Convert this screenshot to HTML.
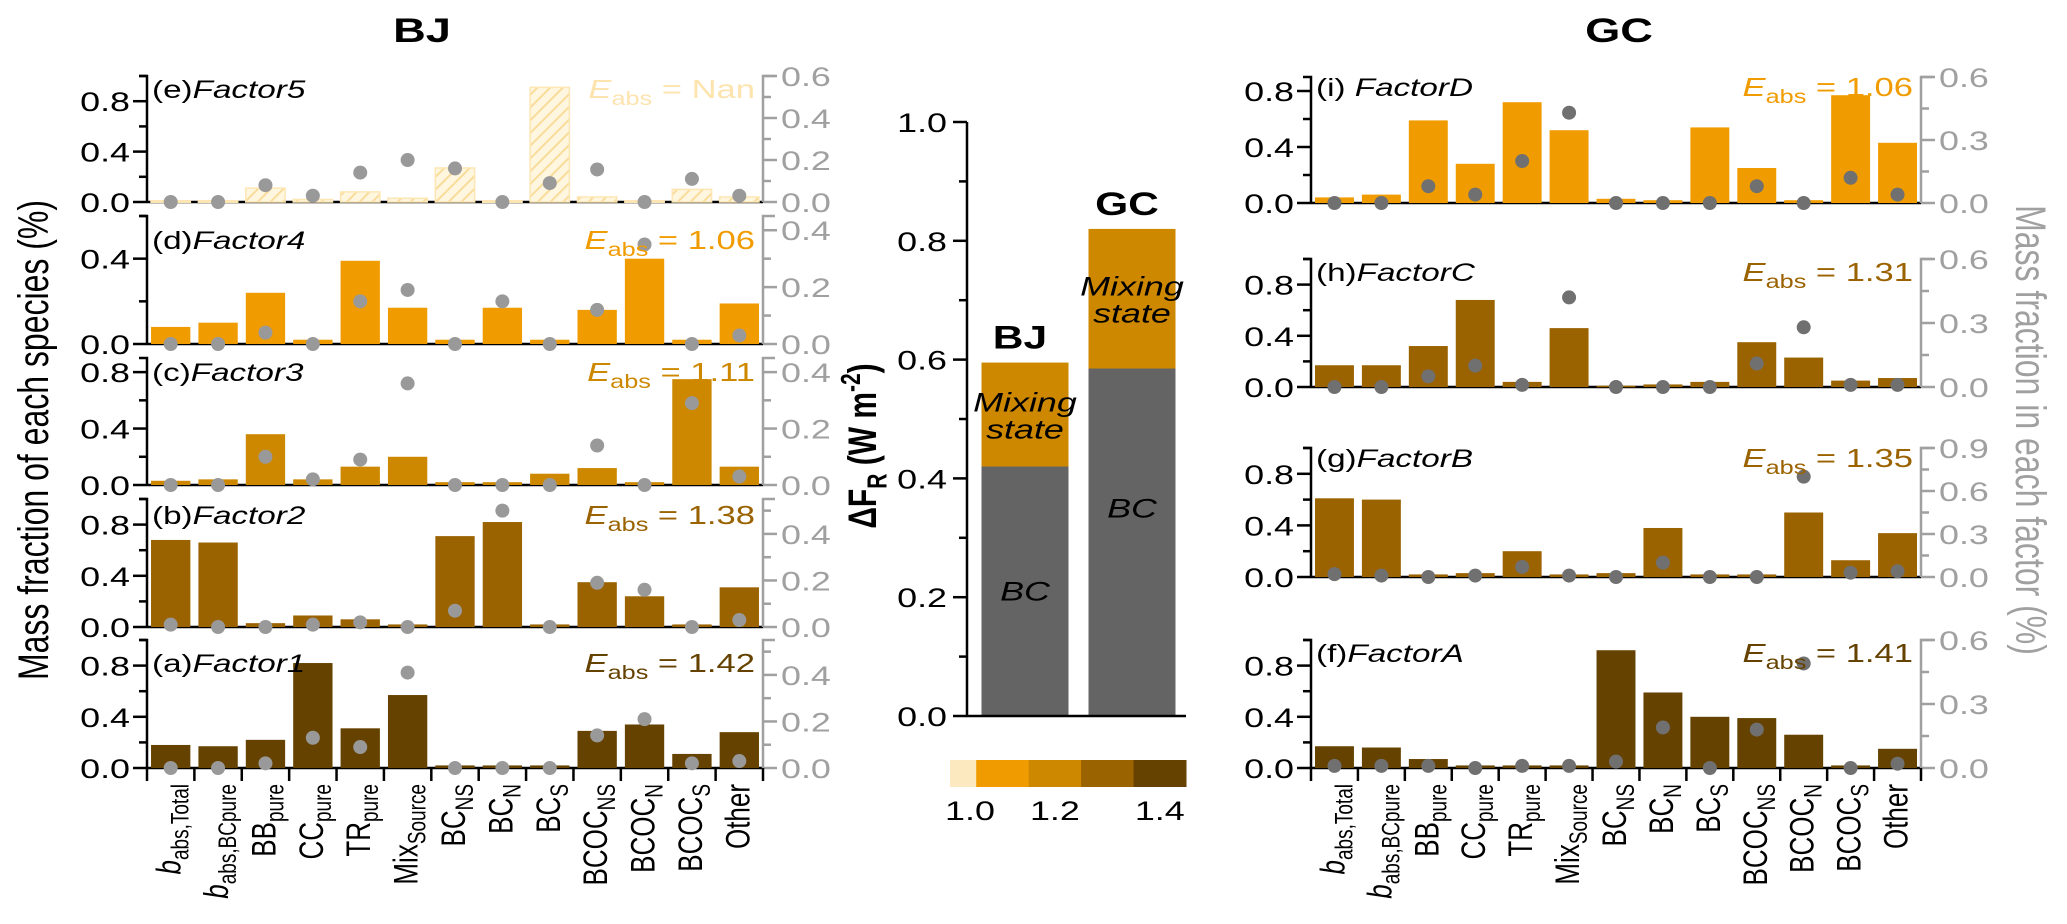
<!DOCTYPE html>
<html><head><meta charset="utf-8">
<style>
html,body{margin:0;padding:0;background:#fff;}
svg{display:block;font-family:"Liberation Sans",Arial,sans-serif;}
</style></head>
<body>
<svg id="fig" width="2067" height="924" viewBox="0 0 2067 924" xmlns="http://www.w3.org/2000/svg">
<defs>
<pattern id="hatch" patternUnits="userSpaceOnUse" width="9" height="9" patternTransform="rotate(45)">
<rect width="9" height="9" fill="#fff6e0"/>
<line x1="0" y1="0" x2="0" y2="9" stroke="#f9dc9a" stroke-width="4"/>
</pattern>
</defs>
</svg>
<script>
// ---- categories ----
const speciesMain = ["b","b","BB","CC","TR","Mix","BC","BC","BC","BCOC","BCOC","BCOC","Other"];
const speciesSub  = ["abs,Total","abs,BCpure","pure","pure","pure","Source","NS","N","S","NS","N","S",""];
// ---- BJ series (bars: left axis, dots: right axis) ----
const bjF5Bars = [0.01,0.01,0.11,0.02,0.08,0.03,0.27,0.01,0.91,0.04,0.01,0.10,0.04];
const bjF5Dots = [0,0,0.08,0.03,0.14,0.20,0.16,0,0.09,0.155,0,0.11,0.03];
const bjF4Bars = [0.08,0.10,0.24,0.02,0.39,0.17,0.02,0.17,0.02,0.16,0.40,0.02,0.19];
const bjF4Dots = [0,0,0.04,0,0.15,0.19,0,0.15,0,0.12,0.35,0,0.03];
const bjF3Bars = [0.03,0.04,0.36,0.04,0.13,0.20,0.02,0.02,0.08,0.12,0.02,0.75,0.13];
const bjF3Dots = [0,0,0.10,0.02,0.09,0.36,0,0,0,0.14,0,0.29,0.03];
const bjF2Bars = [0.68,0.66,0.03,0.09,0.06,0.02,0.71,0.82,0.02,0.35,0.24,0.02,0.31];
const bjF2Dots = [0.01,0,0,0.01,0.02,0,0.07,0.50,0,0.19,0.16,0,0.03];
const bjF1Bars = [0.18,0.17,0.22,0.82,0.31,0.57,0.02,0.02,0.02,0.29,0.34,0.11,0.28];
const bjF1Dots = [0,0,0.02,0.13,0.09,0.41,0,0,0,0.14,0.21,0.02,0.03];
// ---- GC series ----
const gcDBars = [0.04,0.06,0.59,0.28,0.72,0.52,0.03,0.02,0.54,0.25,0.02,0.77,0.43];
const gcDDots = [0,0,0.08,0.04,0.20,0.43,0,0,0,0.08,0,0.12,0.04];
const gcCBars = [0.17,0.17,0.32,0.68,0.04,0.46,0.01,0.02,0.04,0.35,0.23,0.05,0.07];
const gcCDots = [0,0,0.05,0.10,0.01,0.42,0,0,0,0.11,0.28,0.01,0.01];
const gcBBars = [0.61,0.60,0.02,0.03,0.20,0.02,0.03,0.38,0.02,0.02,0.50,0.13,0.34];
const gcBDots = [0.02,0.01,0,0.01,0.07,0.01,0,0.10,0,0,0.70,0.03,0.04];
const gcABars = [0.17,0.16,0.07,0.02,0.02,0.02,0.92,0.59,0.40,0.39,0.26,0.02,0.15];
const gcADots = [0.01,0.01,0.01,0,0.01,0.01,0.03,0.19,0,0.18,0.49,0,0.02];
// ---- E_abs labels ----
const bjEabs = ["Nan","1.06","1.11","1.38","1.42"];
const gcEabs = ["1.06","1.31","1.35","1.41"];
// ---- middle stacked bar ----
const midSites = ["BJ","GC"];
const midBC = [0.42,0.585];
const midMix = [0.175,0.235];
const midTicks = [0,0.2,0.4,0.6,0.8,1.0];
const cbarEdges = [1.0,1.05,1.15,1.25,1.35,1.45];
const cbarTicks = [1.0,1.2,1.4];

const NS="http://www.w3.org/2000/svg";
const svg=document.getElementById('fig');
const SX=1.33;
function el(tag,attrs,parent){const e=document.createElementNS(NS,tag);for(const k in attrs)e.setAttribute(k,attrs[k]);(parent||svg).appendChild(e);return e;}
function txt(x,y,str,size,opts,parent){
  opts=opts||{};
  const t=el('text',{transform:`translate(${x},${y}) scale(${SX},1)`+(opts.rot?' rotate(-90)':''),'font-size':size,'text-anchor':opts.anchor||'start',fill:opts.fill||'#000'},parent);
  if(opts.weight)t.setAttribute('font-weight',opts.weight);
  if(opts.italic)t.setAttribute('font-style','italic');
  t.textContent=str;return t;}
function fmt(v,d){return v.toFixed(d);}

function drawPanel(cfg){
  const g=el('g',{});
  
  
  const x0=cfg.x0,x1=cfg.x1,n=cfg.bars.length,pitch=(x1-x0)/n;
  const yL=v=>cfg.zero-(v/cfg.lmax)*(cfg.zero-cfg.top);
  const yR=v=>cfg.zero-(v/cfg.rmax)*(cfg.zero-cfg.top);
  const base=el('line',{x1:x0,x2:x1,y1:cfg.zero,y2:cfg.zero,stroke:'#000','stroke-width':2.5},g);
  
  
  cfg.bars.forEach((v,i)=>{
    const cx=x0+pitch*(i+0.5),w=pitch*0.83;
    const y=yL(v);
    const r=el('rect',{x:cx-w/2,y:y,width:w,height:Math.max(cfg.zero-y,1.5),fill:cfg.hatch?'url(#hatch)':cfg.color,stroke:cfg.hatch?'#fde6b4':'none','stroke-width':1.5},g);
    
    
  });
  cfg.dots.forEach((v,i)=>{
    const cx=x0+pitch*(i+0.5);
    const c=el('circle',{cx:cx,cy:yR(v),r:7,fill:cfg.dotColor},g);
    
    
  });
  const la=el('path',{d:`M${x0},${cfg.zero}V${cfg.top}H${x0-8}`,stroke:'#000','stroke-width':2.5,fill:'none'},g);
  
  
  for(let v=0;v<=cfg.lmax+1e-6;v+=0.2){
    const major=Math.round(v*10)%4===0;
    el('line',{x1:x0,x2:x0-(major?14:8),y1:yL(v),y2:yL(v),stroke:'#000','stroke-width':2.5},g);
    if(major){const t=txt(x0-17,yL(v)+10,fmt(v,1),27,{anchor:'end'},g);
      
      }
  }
  const ra=el('path',{d:`M${x1},${cfg.zero}V${cfg.top}H${x1+12}`,stroke:'#a0a0a0','stroke-width':2.5,fill:'none'},g);
  
  
  const st=cfg.rstep;
  for(let k=0;k*st/2<=cfg.rmax+1e-6;k++){
    const v=k*st/2,major=k%2===0;
    el('line',{x1:x1,x2:x1+(major?14:8),y1:yR(v),y2:yR(v),stroke:'#a0a0a0','stroke-width':2.5},g);
    if(major&&(!cfg.rlabels||cfg.rlabels.includes(+v.toFixed(2)))){
      const t=txt(x1+18,yR(v)+10,fmt(v,1),27,{fill:'#a0a0a0'},g);
      
      }
  }
  const pl=el('text',{transform:`translate(${x0+5},${cfg.labelY}) scale(${SX},1)`,'font-size':25},g);
  
  
  const t1=el('tspan',{},pl);t1.textContent=cfg.tag;
  const t2=el('tspan',{'font-style':'italic'},pl);t2.textContent=cfg.factor;
  const ea=el('text',{transform:`translate(${x1-8},${cfg.labelY}) scale(${SX},1)`,'font-size':26,'text-anchor':'end',fill:cfg.color},g);
  
  
  const e1=el('tspan',{'font-style':'italic'},ea);e1.textContent='E';
  const e2=el('tspan',{'font-size':19,dy:7},ea);e2.textContent='abs';
  const e3=el('tspan',{dy:-7},ea);e3.textContent=' = '+cfg.eabs;
  if(cfg.bottom){
    for(let i=0;i<=n;i++){el('line',{x1:x0+pitch*i,x2:x0+pitch*i,y1:cfg.zero,y2:cfg.zero+13,stroke:'#000','stroke-width':2.5},g);}
    for(let i=0;i<n;i++){
      const cx=x0+pitch*(i+0.5)+10;
      const t=el('text',{transform:`translate(${cx},${cfg.zero+16}) scale(${SX},1) rotate(-90)`,'font-size':26,'text-anchor':'end'},g);
      
      
      const a=el('tspan',{'font-style':speciesMain[i]==='b'?'italic':'normal'},t);a.textContent=speciesMain[i];
      if(speciesSub[i]){const b=el('tspan',{'font-size':19,dy:6},t);b.textContent=speciesSub[i];}
    }
  }
}

const C5='#f5c76a',C4='#f09c00',C3='#cd8800',C2='#9b6200',C1='#654200';
const BJX0=147,BJX1=763,GCX0=1311,GCX1=1921;
drawPanel({name:'panel-e-factor5',x0:BJX0,x1:BJX1,top:76,zero:202,lmax:1.0,rmax:0.6,rstep:0.2,bars:bjF5Bars,dots:bjF5Dots,color:'#fde3ad',hatch:true,dotColor:'#999',tag:'(e)',factor:'Factor5',eabs:bjEabs[0],labelY:98});
drawPanel({name:'panel-d-factor4',x0:BJX0,x1:BJX1,top:216,zero:344,lmax:0.6,rmax:0.45,rstep:0.2,rlabels:[0,0.2,0.4],bars:bjF4Bars,dots:bjF4Dots,color:C4,dotColor:'#999',tag:'(d)',factor:'Factor4',eabs:bjEabs[1],labelY:249});
drawPanel({name:'panel-c-factor3',x0:BJX0,x1:BJX1,top:358,zero:485,lmax:0.9,rmax:0.45,rstep:0.2,rlabels:[0,0.2,0.4],bars:bjF3Bars,dots:bjF3Dots,color:C3,dotColor:'#999',tag:'(c)',factor:'Factor3',eabs:bjEabs[2],labelY:381});
drawPanel({name:'panel-b-factor2',x0:BJX0,x1:BJX1,top:499,zero:627,lmax:1.0,rmax:0.55,rstep:0.2,rlabels:[0,0.2,0.4],bars:bjF2Bars,dots:bjF2Dots,color:C2,dotColor:'#999',tag:'(b)',factor:'Factor2',eabs:bjEabs[3],labelY:524});
drawPanel({name:'panel-a-factor1',x0:BJX0,x1:BJX1,top:640,zero:768,lmax:1.0,rmax:0.55,rstep:0.2,rlabels:[0,0.2,0.4],bars:bjF1Bars,dots:bjF1Dots,color:C1,dotColor:'#999',tag:'(a)',factor:'Factor1',eabs:bjEabs[4],labelY:672,bottom:true});

drawPanel({name:'panel-i-factord',x0:GCX0,x1:GCX1,top:77,zero:203,lmax:0.9,rmax:0.6,rstep:0.3,bars:gcDBars,dots:gcDDots,color:C4,dotColor:'#707070',tag:'(i) ',factor:'FactorD',eabs:gcEabs[0],labelY:96});
drawPanel({name:'panel-h-factorc',x0:GCX0,x1:GCX1,top:259,zero:387,lmax:1.0,rmax:0.6,rstep:0.3,bars:gcCBars,dots:gcCDots,color:C2,dotColor:'#707070',tag:'(h)',factor:'FactorC',eabs:gcEabs[1],labelY:281});
drawPanel({name:'panel-g-factorb',x0:GCX0,x1:GCX1,top:448,zero:577,lmax:1.0,rmax:0.9,rstep:0.3,bars:gcBBars,dots:gcBDots,color:C2,dotColor:'#707070',tag:'(g)',factor:'FactorB',eabs:gcEabs[2],labelY:467});
drawPanel({name:'panel-f-factora',x0:GCX0,x1:GCX1,top:640,zero:768,lmax:1.0,rmax:0.6,rstep:0.3,bars:gcABars,dots:gcADots,color:C1,dotColor:'#707070',tag:'(f)',factor:'FactorA',eabs:gcEabs[3],labelY:662,bottom:true});

let t=txt(422,42,'BJ',34,{anchor:'middle',weight:'bold'});


t=txt(1619,42,'GC',34,{anchor:'middle',weight:'bold'});


t=txt(48,440,'Mass fraction of each species (%)',32,{anchor:'middle',rot:true});


t=el('text',{transform:'translate(2016,430) scale(1.33,1) rotate(90)','font-size':32,'text-anchor':'middle',fill:'#a0a0a0'});
t.textContent='Mass fraction in each factor (%)';



// ---- middle panel ----
const MX0=967,MX1=1186,MZ=716,MT=122;
const my=v=>MZ-v*(MZ-MT);
const mg=el('g',{});


const mbx=[1025,1132];
midSites.forEach((s,i)=>{
  const w=87,x=mbx[i]-w/2;
  const r1=el('rect',{x:x,y:my(midBC[i]),width:w,height:MZ-my(midBC[i]),fill:'#646464'},mg);
  
  
  const top=midBC[i]+midMix[i];
  const r2=el('rect',{x:x,y:my(top),width:w,height:my(midBC[i])-my(top),fill:C3},mg);
  
  
  let a=txt(mbx[i],(my(top)+my(midBC[i]))/2-3,'Mixing',27,{anchor:'middle',italic:true},mg);
  
  
  a=txt(mbx[i],(my(top)+my(midBC[i]))/2+24,'state',27,{anchor:'middle',italic:true},mg);
  
  
  a=txt(mbx[i],(my(midBC[i])+MZ)/2+(i?-25:9),'BC',27,{anchor:'middle',italic:true},mg);
  
  
  a=txt(mbx[i]-5,my(top)-14,s,32,{anchor:'middle',weight:'bold'},mg);
  
  
});
el('path',{d:`M${MX0},${MT}V${MZ}H${MX1}`,stroke:'#000','stroke-width':2.5,fill:'none'},mg);
midTicks.forEach(v=>{
  el('line',{x1:MX0,x2:MX0-14,y1:my(v),y2:my(v),stroke:'#000','stroke-width':2.5},mg);
  const l=txt(MX0-20,my(v)+10,fmt(v,1),27,{anchor:'end'},mg);
  
  
  if(v<1){el('line',{x1:MX0,x2:MX0-8,y1:my(v+0.1),y2:my(v+0.1),stroke:'#000','stroke-width':2.5},mg);}
});
t=el('text',{transform:'translate(876,446) scale(1.33,1) rotate(-90)','font-size':30,'font-weight':'bold','text-anchor':'middle'},mg);


{const a=el('tspan',{},t);a.textContent='ΔF';const b=el('tspan',{'font-size':21,dy:8},t);b.textContent='R';
 const c=el('tspan',{dy:-8},t);c.textContent=' (W m';const d=el('tspan',{'font-size':21,dy:-12},t);d.textContent='-2';
 const e=el('tspan',{dy:12},t);e.textContent=')';}
const CB0=950,CB1=1186,cbx=v=>CB0+(v-1.0)/(1.45-1.0)*(CB1-CB0);
const cbCols=['#fde9c0',C4,C3,C2,C1];
for(let i=0;i<cbCols.length;i++){
  const r=el('rect',{x:cbx(cbarEdges[i]),y:760,width:cbx(cbarEdges[i+1])-cbx(cbarEdges[i])+0.5,height:27,fill:cbCols[i]},mg);
  
  
}
cbarTicks.forEach(v=>{const l=txt(cbx(v)+(v===1.0?20:0),820,fmt(v,1),27,{anchor:'middle'},mg);
  
  });
</script>
</body></html>
